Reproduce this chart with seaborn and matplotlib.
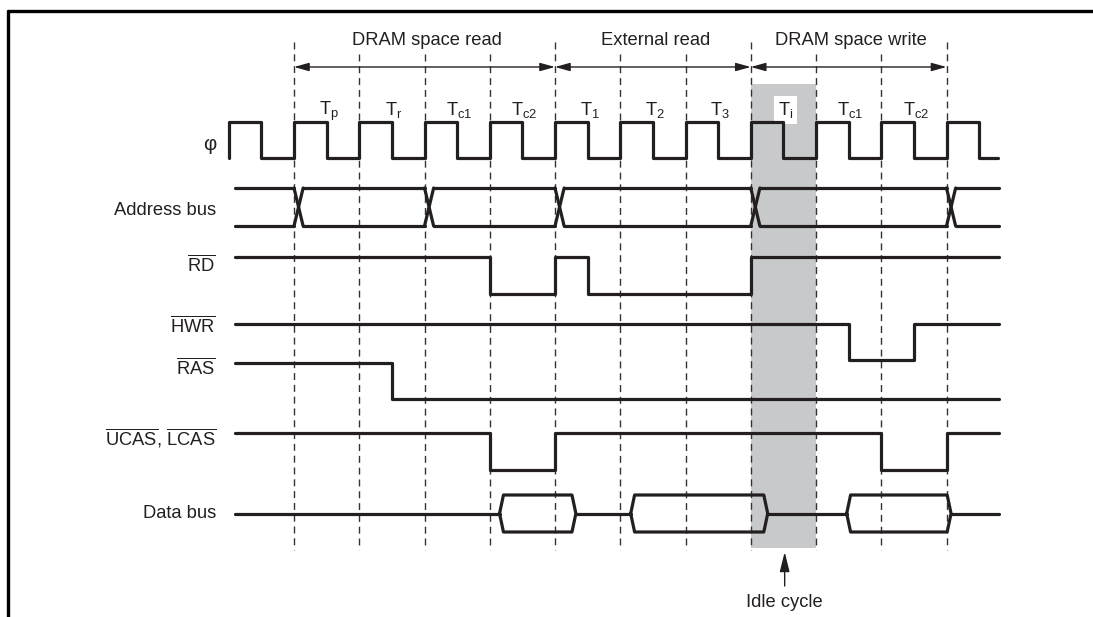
import matplotlib
matplotlib.use("Agg")
import matplotlib.pyplot as plt
import numpy as np
import pandas as pd
import seaborn as sns
from matplotlib.patches import Rectangle
from matplotlib.lines import Line2D

# ---------------- data ----------------
cycle_labels = ["p", "r", "c1", "c2", "1", "2", "3", "i", "c1", "c2"]
phase_names = ["DRAM space read", "External read", "DRAM space write"]
phase_bounds = [0, 4, 7, 10]
idle_cycle = 7

clock_start = -1.0
clock_end = 10.79
clock_levels = [1, 0, 1, 0, 1, 0, 1, 0, 1, 0, 1, 0, 1, 0, 1, 0, 1, 0, 1, 0, 1, 0, 1, 0]

signal_start = -0.9
signal_end = 10.8

address_changes = [0, 2, 4, 7, 10]
rd_init, rd_toggles = 1, [3, 4, 4.5, 7]
hwr_init, hwr_toggles = 1, [8.5, 9.5]
ras_init, ras_toggles = 1, [1.5]
cas_init, cas_toggles = 1, [3, 4, 9, 10]
data_windows = [(3.15, 4.32), (5.16, 7.26), (8.47, 10.07)]

signal_labels = ["\u03c6", "Address bus", r"$\overline{\mathrm{RD}}$", r"$\overline{\mathrm{HWR}}$",
                 r"$\overline{\mathrm{RAS}}$", r"$\overline{\mathrm{UCAS}}$, $\overline{\mathrm{LCAS}}$", "Data bus"]

# ---------------- layout (pixel rows) ----------------
W, H = 1093, 617
PX_PER_CYCLE = 65.25
X0_PX = 294
rows = {"clk": (122, 158), "addr": (188, 226), "rd": (257, 294), "hwr": (324, 360),
        "ras": (363, 399), "cas": (433, 470), "data": (495, 532)}
label_y = [145, 215, 271, 332, 374, 446, 518]
label_x = -(X0_PX - 216) / PX_PER_CYCLE
ink = "#231f20"

sns.set_theme(style="white")
plt.rcParams["font.family"] = ["Liberation Sans", "DejaVu Sans"]
plt.rcParams["mathtext.fontset"] = "custom"
plt.rcParams["mathtext.rm"] = "Liberation Sans"
plt.rcParams["mathtext.it"] = "Liberation Sans:italic"
plt.rcParams["mathtext.default"] = "regular"

fig = plt.figure(figsize=(W / 100, H / 100), dpi=100)
ax = fig.add_axes([0, 0, 1, 1])

# idle cycle shading
ax.add_patch(Rectangle((idle_cycle, 84), 1, 464, facecolor="#c8c9cb", edgecolor="none", zorder=0))

# dashed cycle boundaries
for t in range(phase_bounds[0], phase_bounds[-1] + 1):
    top = 42 if t in phase_bounds else 54
    ax.vlines(t, top, 550, colors="#333333", lw=1.0, linestyles=(0, (5, 3.5)), zorder=1)

# ---------------- build signal segments ----------------
segs = []
def add(seg_id, xs, ys):
    for x, y in zip(xs, ys):
        segs.append({"seg": seg_id, "x": x, "y": y})

def ylev(row, lvl):
    hi, lo = rows[row]
    return hi if lvl else lo

# clock
xs, ys = [clock_start], [ylev("clk", 0)]
for k, L in enumerate(clock_levels):
    ta = clock_start + 0.5 * k
    tb = min(clock_start + 0.5 * (k + 1), clock_end)
    if ta >= clock_end:
        break
    xs += [ta, tb]
    ys += [ylev("clk", L), ylev("clk", L)]
add("clk", xs, ys)

# step signals
def step(name, init, toggles):
    xs, ys, lvl = [signal_start], [ylev(name, init)], init
    for t in toggles:
        xs += [t, t]
        ys += [ylev(name, lvl), ylev(name, 1 - lvl)]
        lvl = 1 - lvl
    xs.append(signal_end)
    ys.append(ylev(name, lvl))
    add(name, xs, ys)

step("rd", rd_init, rd_toggles)
step("hwr", hwr_init, hwr_toggles)
step("ras", ras_init, ras_toggles)
step("cas", cas_init, cas_toggles)

# address bus
wx = 0.14
hi, lo = rows["addr"]
for i, c in enumerate(address_changes):
    a = signal_start if i == 0 else address_changes[i - 1] + wx
    add(f"at{i}", [a, c], [hi, hi])
    add(f"ab{i}", [a, c], [lo, lo])
    add(f"ax{i}", [c, c + wx], [hi, lo])
    add(f"ay{i}", [c, c + wx], [lo, hi])
add("at_end", [address_changes[-1] + wx, signal_end], [hi, hi])
add("ab_end", [address_changes[-1] + wx, signal_end], [lo, lo])

# data bus
s = 0.06
hi, lo = rows["data"]
mid = (hi + lo) / 2
prev = signal_start
for i, (a, b) in enumerate(data_windows):
    add(f"dm{i}", [prev, a], [mid, mid])
    add(f"dh{i}", [a, a + s, b - s, b, b - s, a + s, a], [mid, hi, hi, mid, lo, lo, mid])
    prev = b
add("dm_end", [prev, signal_end], [mid, mid])

df = pd.DataFrame(segs)
sns.lineplot(data=df, x="x", y="y", units="seg", estimator=None, sort=False,
             color=ink, lw=2.3, legend=False, ax=ax, zorder=3)
ax.set_xlim(-X0_PX / PX_PER_CYCLE, (W - X0_PX) / PX_PER_CYCLE)
ax.set_ylim(H, 0)
ax.axis("off")

FS = 13.2
# signal labels
for lab, y in zip(signal_labels, label_y):
    if lab == "\u03c6":
        ax.text(label_x, y, lab, ha="right", va="center", fontsize=FS + 1.5, color=ink)
    else:
        ax.text(label_x, y, lab, ha="right", va="baseline", fontsize=FS, color=ink)

# cycle labels
for i, c in enumerate(cycle_labels):
    kw = {}
    if i == idle_cycle:
        kw["bbox"] = dict(boxstyle="square,pad=0.22", fc="white", ec="none")
    ax.text(i + 0.53, 115, r"$\mathregular{T_{%s}}$" % c, ha="center", va="baseline",
            fontsize=FS, color=ink, zorder=2, **kw)

# phase arrows and names
for name, a, b in zip(phase_names, phase_bounds[:-1], phase_bounds[1:]):
    ax.annotate("", xy=(a, 67), xytext=(b, 67),
                arrowprops=dict(arrowstyle="<|-|>,head_length=0.9,head_width=0.25",
                                mutation_scale=10, lw=1.0, color=ink, shrinkA=0, shrinkB=0))
    ax.text((a + b) / 2 + 0.04, 45, name, ha="center", va="baseline", fontsize=FS, color=ink)

# idle cycle pointer
ax.annotate("", xy=(idle_cycle + 0.52, 552), xytext=(idle_cycle + 0.52, 586),
            arrowprops=dict(arrowstyle="-|>,head_length=1.2,head_width=0.3",
                            mutation_scale=10, lw=1.0, color=ink, shrinkA=0, shrinkB=0))
ax.text(idle_cycle + 0.52, 607, "Idle cycle", ha="center", va="baseline", fontsize=FS, color=ink)

# frame (top-left corner of page box)
fig.add_artist(Line2D([8 / W, 1.0], [1 - 11 / H, 1 - 11 / H], transform=fig.transFigure, color="black", lw=2.4))
fig.add_artist(Line2D([8 / W, 8 / W], [1 - 11 / H, 0], transform=fig.transFigure, color="black", lw=2.4))

fig.savefig("out.png", dpi=100)
